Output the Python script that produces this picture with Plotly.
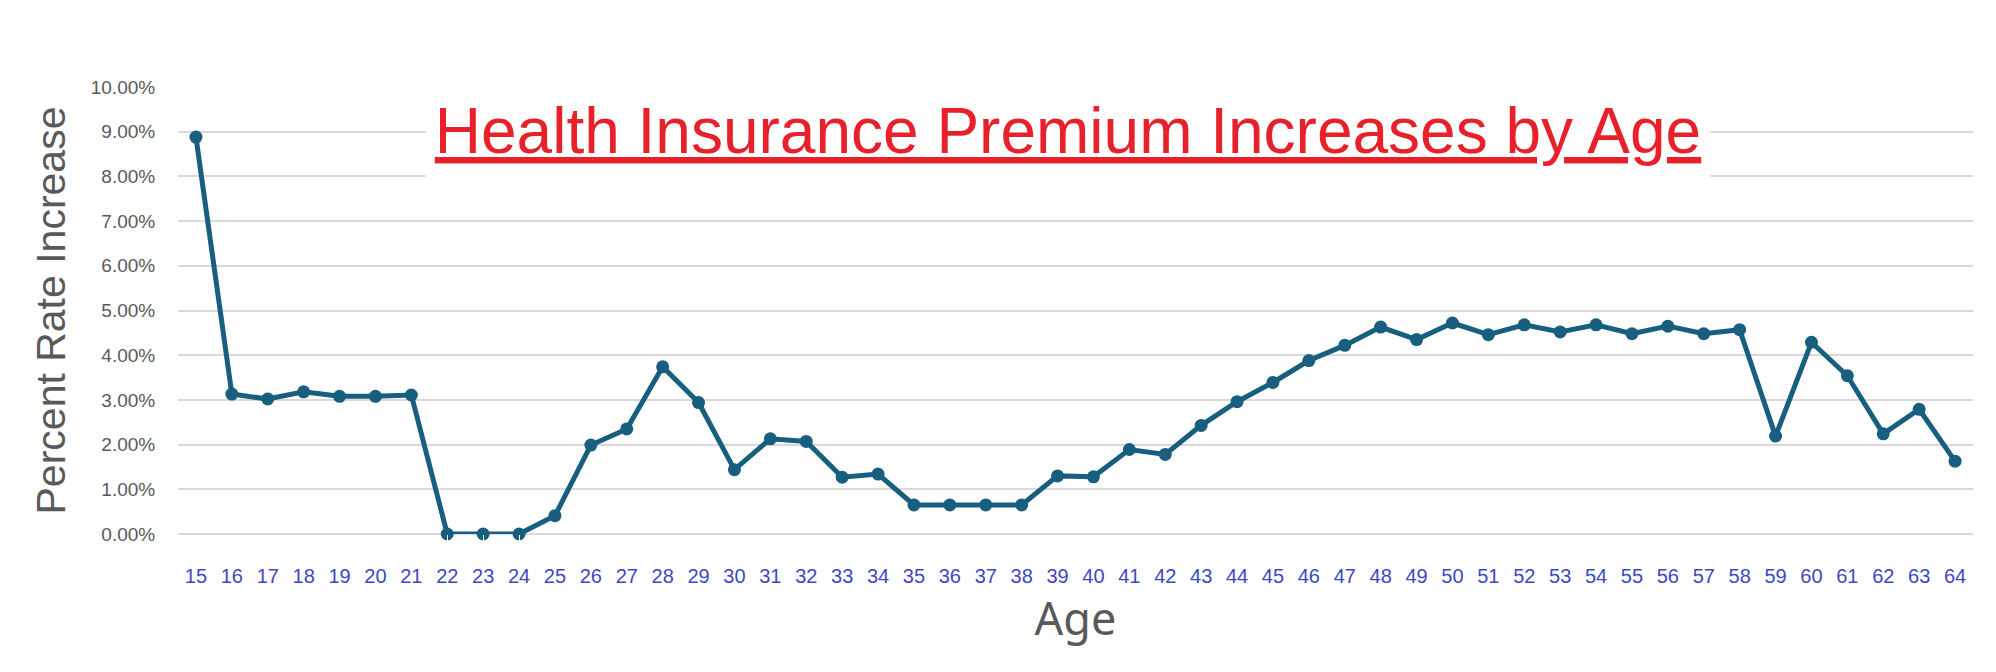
#!/usr/bin/env python3

import plotly.graph_objects as go

# ages 15..64 and the yearly premium rate increase (fraction)
ages = [str(a) for a in range(15, 65)]
rate_increase = [
    0.0888, 0.0313, 0.0302, 0.0318, 0.0308, 0.0308, 0.0311,   # 15-21
    0.0000, 0.0000, 0.0000, 0.0041, 0.0199, 0.0235, 0.0374,   # 22-28
    0.0294, 0.0144, 0.0213, 0.0207, 0.0127, 0.0134, 0.0065,   # 29-35
    0.0065, 0.0065, 0.0065, 0.0130, 0.0128, 0.0189, 0.0178,   # 36-42
    0.0243, 0.0296, 0.0339, 0.0388, 0.0422, 0.0463, 0.0435,   # 43-49
    0.0472, 0.0446, 0.0468, 0.0452, 0.0468, 0.0448, 0.0465,   # 50-56
    0.0448, 0.0457, 0.0219, 0.0429, 0.0354, 0.0224, 0.0279,   # 57-63
    0.0163,                                                   # 64
]
y_ticks = [i / 100 for i in range(0, 11)]

title_text = 'Health Insurance Premium Increases by Age'
line_color = '#175E7F'
grid_color = '#D9D9D9'
label_gray = '#595959'

fig = go.Figure()
fig.add_trace(go.Scatter(
    x=ages, y=rate_increase, mode='lines+markers',
    line=dict(color=line_color, width=5),
    marker=dict(color=line_color, size=13),
    cliponaxis=False,
    showlegend=False,
))

# page body has an 8px margin, so the figure is a bit smaller than the window
fig.update_layout(
    width=1980, height=656,
    margin=dict(l=170, r=15, t=79, b=130),
    paper_bgcolor='white', plot_bgcolor='white',
    font=dict(family='Liberation Sans, Arial', color=label_gray),
)

fig.update_xaxes(
    type='category', range=[-0.5, 49.5],
    showgrid=False, showline=False, zeroline=False,
    ticks='outside', ticklen=24, tickcolor='white',
    tickfont=dict(family='Liberation Sans Narrow, Liberation Sans', size=20, color='#3E48C2'),
    title=dict(text='Age', font=dict(family='Noto Sans', size=45, color=label_gray), standoff=4),
)
fig.update_yaxes(
    range=[0, 0.1], tickvals=y_ticks, tickformat='.2%',
    showgrid=True, gridcolor=grid_color, gridwidth=1.5,
    zeroline=True, zerolinecolor=grid_color, zerolinewidth=1.5,
    showline=False,
    ticks='outside', ticklen=18, tickcolor='white',
    tickfont=dict(size=19, color=label_gray),
    title=dict(text='Percent Rate Increase', font=dict(size=41, color=label_gray), standoff=12),
)

# title sits inside the plot area on a white box hiding the gridlines
fig.add_annotation(
    text='<u>' + title_text + '</u>',
    xref='paper', yref='paper', x=0.496, y=0.987,
    xanchor='center', yanchor='top', valign='top',
    width=1282, height=95, bgcolor='white',
    showarrow=False,
    font=dict(family='Liberation Sans, Arial', size=64, color='#E8202A'),
)

fig.write_html('out.html')
